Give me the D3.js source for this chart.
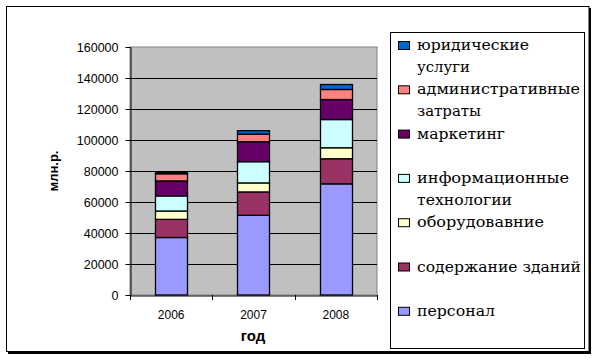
<!DOCTYPE html>
<html><head><meta charset="utf-8">
<script src="https://cdn.jsdelivr.net/npm/d3@7"></script>
<style>body{margin:0;background:#fff}svg{display:block}
.sans{font-family:"Liberation Sans",Arial,sans-serif;fill:#000}
</style>
</head><body>
<script>
const years = ["2006","2007","2008"];
const seriesNames = ["персонал","содержание зданий","оборудовавние","информационные технологии","маркетинг","административные затраты","юридические услуги"];
const personnel  = [37100, 51400, 71700];
const buildings  = [11700, 15100, 16200];
const equipment  = [5400, 5800, 7100];
const itTech     = [9700, 13700, 18200];
const marketing  = [9700, 12900, 12900];
const admin      = [4600, 4900, 6500];
const legal      = [700, 2200, 3200];
const yTicks = [0,20000,40000,60000,80000,100000,120000,140000,160000];
const legendLines = [["юридические","услуги"],["административные","затраты"],["маркетинг"],["информационные","технологии"],["оборудовавние"],["содержание зданий"],["персонал"]];
const legendWidths = [[112,53],[163,64],[88],[152,95],[127],[164],[78]];
const colors = ["#9999FF","#993366","#FFFFCC","#CCFFFF","#660066","#FF8080","#0066CC"];

const seriesVals = [personnel, buildings, equipment, itTech, marketing, admin, legal];
const rows = years.map((y,i)=>{const r={year:y}; seriesNames.forEach((s,k)=>r[s]=seriesVals[k][i]); return r;});

const W=598,H=359;
const svg=d3.select("body").append("svg").attr("width",W).attr("height",H);
svg.append("rect").attr("x",8).attr("y",8).attr("width",583).attr("height",346).attr("fill","#000");
svg.append("rect").attr("x",6.5).attr("y",6.5).attr("width",582.5).attr("height",345).attr("fill","#fff").attr("stroke","#000").attr("stroke-width",1);

const L=130,R=377,T=47,B=295;
const x=d3.scaleBand().domain(years).range([L,R]).paddingInner(0).paddingOuter(0);
const y=d3.scaleLinear().domain([0,160000]).range([B,T]);

svg.append("rect").attr("x",L).attr("y",T).attr("width",R-L).attr("height",B-T).attr("fill","#C0C0C0").attr("stroke","#808080");
svg.append("g").selectAll("line").data(yTicks.filter(d=>d>0 && d<160000)).join("line")
  .attr("x1",L).attr("x2",R).attr("y1",d=>Math.round(y(d))+0.5).attr("y2",d=>Math.round(y(d))+0.5)
  .attr("stroke","#000").attr("stroke-width",1);

const stack=d3.stack().keys(seriesNames)(rows);
const bw=32;
svg.append("g").selectAll("g").data(stack).join("g").attr("fill",(d,i)=>colors[i])
  .selectAll("rect").data(d=>d).join("rect")
  .attr("x",d=>Math.round(x(d.data.year)+x.bandwidth()/2-bw/2)+0.5)
  .attr("width",bw)
  .attr("y",d=>y(d[1]))
  .attr("height",d=>y(d[0])-y(d[1]))
  .attr("stroke","#000").attr("stroke-width",1.3);

const ya=svg.append("g").attr("transform",`translate(${L+0.5},0)`)
  .call(d3.axisLeft(y).tickValues(yTicks).tickSize(5).tickSizeOuter(0).tickFormat(d3.format("d")));
ya.select(".domain").attr("stroke","#000");
ya.selectAll("line").attr("stroke","#000");
ya.selectAll("text").attr("class","sans").attr("font-size","12.5px").attr("x",-12).attr("dy","0.32em");

const xa=svg.append("g").attr("transform",`translate(0,${B+0.5})`)
  .call(d3.axisBottom(x).tickSize(0).tickSizeOuter(0));
xa.select(".domain").attr("stroke","#000");
xa.selectAll("text").attr("class","sans").attr("font-size","12px").attr("y",15).attr("dy","0.71em");
const bounds=years.map(d=>x(d)).concat([R]);
svg.append("g").selectAll("line").data(bounds).join("line")
  .attr("x1",d=>Math.round(d)+0.5).attr("x2",d=>Math.round(d)+0.5).attr("y1",B).attr("y2",B+5).attr("stroke","#000");

svg.append("text").attr("class","sans").attr("x",253).attr("y",341).attr("text-anchor","middle")
  .attr("font-weight","bold").attr("font-size","15px").text("год");
svg.append("text").attr("class","sans").attr("transform","translate(58,171) rotate(-90)").attr("text-anchor","middle")
  .attr("font-weight","bold").attr("font-size","13px").text("млн.р.");

svg.append("rect").attr("x",390.5).attr("y",32.5).attr("width",194).attr("height",316).attr("fill","#fff").attr("stroke","#000");
const legColors=colors.slice().reverse();
const lg=svg.append("g").selectAll("g").data(legendLines).join("g")
  .attr("transform",(d,i)=>`translate(0,${50+i*44.3})`);
lg.append("rect").attr("x",398.5).attr("y",-8.5).attr("width",11).attr("height",8).attr("fill",(d,i)=>legColors[i]).attr("stroke","#000");
lg.each(function(lines,i){
  const g=d3.select(this);
  lines.forEach((t,j)=>{
    g.append("text").attr("x",417).attr("y",j*22)
      .attr("style","font-family:'DejaVu Serif',serif;font-size:15.5px;fill:#000")
      .attr("textLength",legendWidths[i][j]).attr("lengthAdjust","spacingAndGlyphs").text(t);
  });
});
</script>
</body></html>
